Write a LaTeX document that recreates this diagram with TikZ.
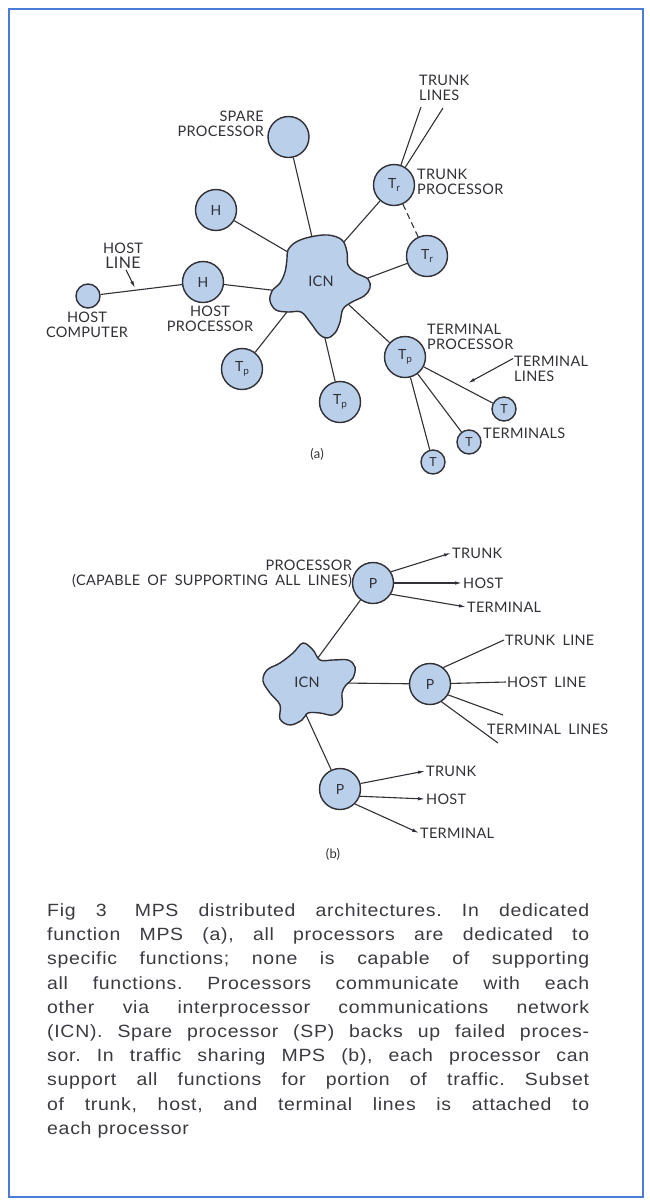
\documentclass[tikz,border=0pt]{standalone}
\usepackage{fontspec}
\newfontfamily\lblfont{Lato}[LetterSpace=2.0,WordSpace=1.8]
\newfontfamily\capfont{Liberation Sans}[FakeStretch=1.1,LetterSpace=4.0]
\usetikzlibrary{arrows.meta}
\definecolor{procblue}{RGB}{186,207,234}
\definecolor{framecol}{RGB}{72,124,214}
\definecolor{inkcol}{RGB}{48,48,54}
\definecolor{capcol}{RGB}{58,58,64}
\newcommand{\lowsub}[1]{\raisebox{-3pt}{\fontsize{10}{10}\selectfont #1}}

\begin{document}
\begin{tikzpicture}[x=1pt,y=-1pt,
    proc/.style={circle,draw=inkcol,fill=procblue,line width=1.4pt,minimum size=41pt,inner sep=0pt,
      font=\lblfont\fontsize{14}{14}\selectfont,text=inkcol},
    term/.style={proc,minimum size=24pt,font=\lblfont\fontsize{12.5}{12.5}\selectfont},
    lbl/.style={font=\lblfont\fontsize{14.5}{15}\selectfont,text=inkcol,inner sep=1pt},
    conn/.style={draw=inkcol,line width=1.1pt},
    tip/.style={conn,-{Latex[length=7pt,width=3.5pt]}},
    blob/.style={draw=inkcol,fill=procblue,line width=1.4pt}]
    \useasboundingbox (0,0) rectangle (649,1200);
    \draw[framecol,line width=2.5pt] (9,9) rectangle (643,1197);
    %% (a) dedicated function
    \node[proc] (spare) at (288.5,137) {};
    \node[proc] (hA) at (216,210) {H};
    \node[proc] (trA) at (394,185) {T\lowsub{r}};
    \node[proc] (trB) at (427,256) {T\lowsub{r}};
    \node[proc] (hB) at (203,282) {H};
    \node[term] (hc) at (88,296) {};
    \node[proc] (tpA) at (242,369) {T\lowsub{p}};
    \node[proc] (tpB) at (340,402) {T\lowsub{p}};
    \node[proc] (tpC) at (405,357) {T\lowsub{p}};
    \node[term] (tA) at (504,409) {T};
    \node[term] (tB) at (469,442) {T};
    \node[term] (tC) at (433,462) {T};
    %%
    \node[lbl,align=right,anchor=east] (spareLbl) at (265,123.5) {SPARE\\PROCESSOR};
    \node[lbl,align=left,anchor=west] (trLinesLbl) at (418,88) {TRUNK\\LINES};
    \node[lbl,align=left,anchor=west] (trProcLbl) at (416,181.5) {TRUNK\\PROCESSOR};
    \node[lbl,align=center] (hostLbl) at (123,256) {HOST\\\fontsize{16}{16}\selectfont LINE};
    \node[lbl,align=center] (hcLbl) at (87,324.5) {HOST\\COMPUTER};
    \node[lbl,align=center] (hpLbl) at (210,318.5) {HOST\\PROCESSOR};
    \node[lbl,align=left,anchor=west] (tmProcLbl) at (426,336.5) {TERMINAL\\PROCESSOR};
    \node[lbl,align=left,anchor=west] (tmLinesLbl) at (513,368.5) {TERMINAL\\LINES};
    \node[lbl,anchor=west] (termsLbl) at (482,433) {TERMINALS};
    \node[lbl,font=\lblfont\fontsize{13}{13}\selectfont] (capA) at (317,454) {(a)};
    %%
    \coordinate (tlEndA) at (421,107);
    \coordinate (tlEndB) at (443,108);
    \coordinate (hlTip) at (135,288);
    \coordinate (tmTip) at (468,383);
    \coordinate (icnA1) at (312,237);
    \coordinate (icnA2) at (289.5,253);
    \coordinate (icnA3) at (343,243);
    \coordinate (icnA4) at (364,279.5);
    \coordinate (icnA5) at (275,290.5);
    \coordinate (icnA6) at (288.5,310);
    \coordinate (icnA7) at (324,334);
    \coordinate (icnA8) at (348,304);
    \draw[conn] (trA) -- (tlEndA);
    \draw[conn] (trA) -- (tlEndB);
    \draw[conn,dash pattern=on 6pt off 4pt] (trA) -- (trB);
    \draw[conn] (hc) -- (hB);
    \draw[tip] ([xshift=3pt]hostLbl.south) -- (hlTip);
    \draw[tip] ([yshift=-4pt]tmLinesLbl.north west) -- (tmTip);
    \draw[conn] (tpC) -- (tA);
    \draw[conn] (tpC) -- (tB);
    \draw[conn] (tpC) -- (tC);
    \draw[conn] (spare) -- (icnA1);
    \draw[conn] (hA) -- (icnA2);
    \draw[conn] (trA) -- (icnA3);
    \draw[conn] (trB) -- (icnA4);
    \draw[conn] (hB) -- (icnA5);
    \draw[conn] (tpA) -- (icnA6);
    \draw[conn] (tpB) -- (icnA7);
    \draw[conn] (tpC) -- (icnA8);
    \draw[blob] plot[smooth cycle,tension=0.6] coordinates {(288,250) (296,242) (310,237) (328,235)
      (342,240) (347,252) (348,265) (356,273) (368,279) (370,288) (364,296) (352,302) (343,309)
      (340,322) (335,333) (327,338) (319,334) (310,322) (301,312) (288,312) (276,310) (270,301)
      (272,291) (280,283) (285,272) (287,259)};
    \node[lbl] (icnA) at (321,281) {ICN};
    %% (b) traffic sharing
    \node[proc] (pA) at (373,583) {P};
    \node[proc] (pB) at (430,684) {P};
    \node[proc] (pC) at (340,789) {P};
    %%
    \node[lbl,align=right,anchor=east] (pALbl) at (353,574) {PROCESSOR\\(CAPABLE OF SUPPORTING ALL LINES)};
    \node[lbl,anchor=west] (trkA) at (451,553) {TRUNK};
    \node[lbl,anchor=west] (hstA) at (462,583) {HOST};
    \node[lbl,anchor=west] (trmA) at (466,607) {TERMINAL};
    \node[lbl,anchor=west] (trkB) at (504,640) {TRUNK LINE};
    \node[lbl,anchor=west] (hstB) at (506,682) {HOST LINE};
    \node[lbl,anchor=west] (trmB) at (486,729) {TERMINAL LINES};
    \node[lbl,anchor=west] (trkC) at (425,771) {TRUNK};
    \node[lbl,anchor=west] (hstC) at (425,799) {HOST};
    \node[lbl,anchor=west] (trmC) at (419,833) {TERMINAL};
    \node[lbl,font=\lblfont\fontsize{13}{13}\selectfont] (capB) at (333,854) {(b)};
    %%
    \coordinate (tmEndA) at (503,715);
    \coordinate (tmEndB) at (498,743);
    \coordinate (icnB1) at (315.6,661);
    \coordinate (icnB2) at (341,683);
    \coordinate (icnB3) at (303.5,709.5);
    \draw[tip] (pA.32) -- (trkA.west);
    \draw[tip] (pA) -- (hstA.west);
    \draw[tip] (pA.-32) -- (trmA.west);
    \draw[conn] (pB.51) -- (trkB.west);
    \draw[conn] (pB) -- (hstB.west);
    \draw[conn] (pB.-31) -- (tmEndA);
    \draw[conn] (pB.-57) -- (tmEndB);
    \draw[tip] (pC.15) -- (trkC.west);
    \draw[tip] (pC.-20) -- (hstC.west);
    \draw[tip] (pC.-45) -- (trmC.west);
    \draw[conn] (pA) -- (icnB1);
    \draw[conn] (pB) -- (icnB2);
    \draw[conn] (pC) -- (icnB3);
    \draw[blob] plot[smooth cycle,tension=0.6] coordinates {(303,643) (293,653) (280,663) (267,670)
      (263,681) (270,693) (280,705) (280,719) (290,725) (302,720) (308,713) (320,713) (333,715)
      (342,707) (342,693) (346,685) (353,678) (355,667) (348,660) (333,660) (320,660) (313,650)};
    \node[lbl] (icnB) at (307,682) {ICN};
    %% caption
    \node[font=\capfont\fontsize{17.7}{24.2}\selectfont,text=capcol,text width=542pt,align=justify,
      inner sep=0pt,anchor=north west] (caption) at (47,903.5) {\frenchspacing\tolerance=9999\hyphenpenalty=10000
      Fig 3\hspace{8pt} MPS distributed architectures. In dedicated\linebreak
      function MPS (a), all processors are dedicated to\linebreak
      specific functions; none is capable of supporting\linebreak
      all functions. Processors communicate with each\linebreak
      other via interprocessor communications network\linebreak
      (ICN). Spare processor (SP) backs up failed proces-\linebreak
      sor. In traffic sharing MPS (b), each processor can\linebreak
      support all functions for portion of traffic. Subset\linebreak
      of trunk, host, and terminal lines is attached to\linebreak
      each processor};
\end{tikzpicture}
\end{document}
